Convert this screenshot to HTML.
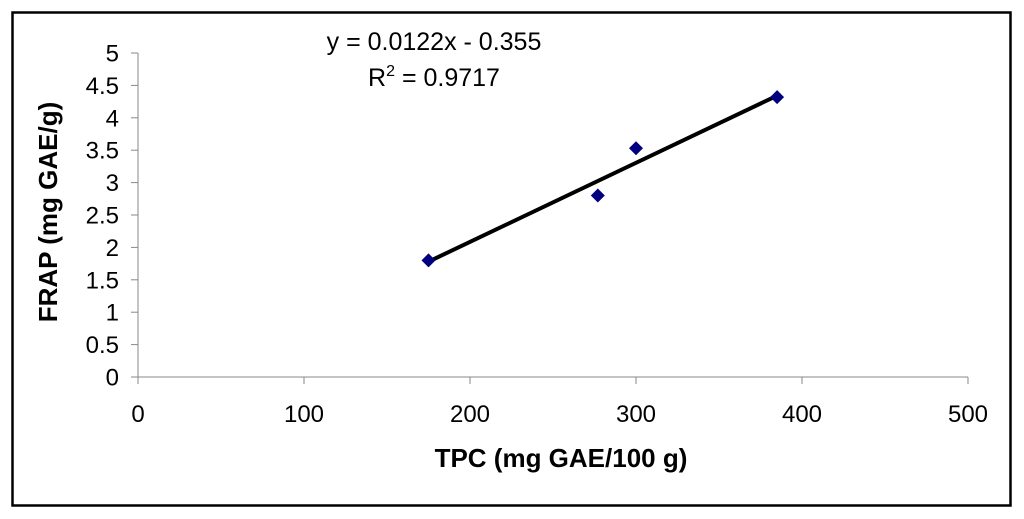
<!DOCTYPE html>
<html><head><meta charset="utf-8"><style>
html,body{margin:0;padding:0;background:#fff;}
svg{display:block;font-family:"Liberation Sans",Arial,sans-serif;}
</style></head><body>
<svg width="1024" height="519" viewBox="0 0 1024 519">
<rect x="12.5" y="12.5" width="998" height="493" fill="#fff" stroke="#000" stroke-width="2.5"/>
<g id="axes"></g>
<g id="marks"></g>
<text x="434" y="50" font-size="25" text-anchor="middle">y = 0.0122x - 0.355</text>
<text x="434" y="86" font-size="25" text-anchor="middle">R<tspan dy="-10" font-size="16">2</tspan><tspan dy="10"> = 0.9717</tspan></text>
<text x="561" y="467" font-size="26" font-weight="bold" text-anchor="middle">TPC (mg GAE/100 g)</text>
<text transform="translate(57,212) rotate(-90)" font-size="26" font-weight="bold" text-anchor="middle">FRAP (mg GAE/g)</text>
</svg>
<script>
const xTicks=[0,100,200,300,400,500];
const yTicks=[0,0.5,1,1.5,2,2.5,3,3.5,4,4.5,5];
const tpcValues=[175,277,300,385];
const frapValues=[1.8,2.8,3.53,4.32];
const slope=0.0122, intercept=-0.355;
const trendRange=[175,385];
const NS="http://www.w3.org/2000/svg";
const X0=138,X1=968,Y0=377,Y1=53;
const sx=v=>X0+(v-0)/(500-0)*(X1-X0);
const sy=v=>Y0-(v-0)/(5-0)*(Y0-Y1);
function mk(tag,attrs,parent,txt){const e=document.createElementNS(NS,tag);for(const k in attrs)e.setAttribute(k,attrs[k]);if(txt!==undefined)e.textContent=txt;parent.appendChild(e);return e;}
const axes=document.getElementById('axes'),marks=document.getElementById('marks');
let e=mk('line',{x1:X0,y1:Y1,x2:X0,y2:Y0,stroke:'#888','stroke-width':1},axes);


e=mk('line',{x1:X0,y1:Y0,x2:X1,y2:Y0,stroke:'#888','stroke-width':1},axes);


yTicks.forEach(t=>{const y=sy(t);
 let l=mk('line',{x1:X0-7,y1:y,x2:X0,y2:y,stroke:'#888','stroke-width':1},axes);
 
 
 let tx=mk('text',{x:119,y:y+8.5,'font-size':24,'text-anchor':'end'},axes,String(t));
 
 
});
xTicks.forEach(t=>{const x=sx(t);
 let l=mk('line',{x1:x,y1:Y0,x2:x,y2:Y0+7,stroke:'#888','stroke-width':1},axes);
 
 
 let tx=mk('text',{x:x,y:422,'font-size':24,'text-anchor':'middle'},axes,String(t));
 
 
});
const tl=mk('line',{x1:sx(trendRange[0]),y1:sy(slope*trendRange[0]+intercept),x2:sx(trendRange[1]),y2:sy(slope*trendRange[1]+intercept),stroke:'#000','stroke-width':4},marks);


tpcValues.forEach((v,i)=>{const x=sx(v),y=sy(frapValues[i]);
 const p=mk('polygon',{points:`${x},${y-7} ${x+7},${y} ${x},${y+7} ${x-7},${y}`,fill:'#000080'},marks);
 
 
});
</script>
</body></html>
